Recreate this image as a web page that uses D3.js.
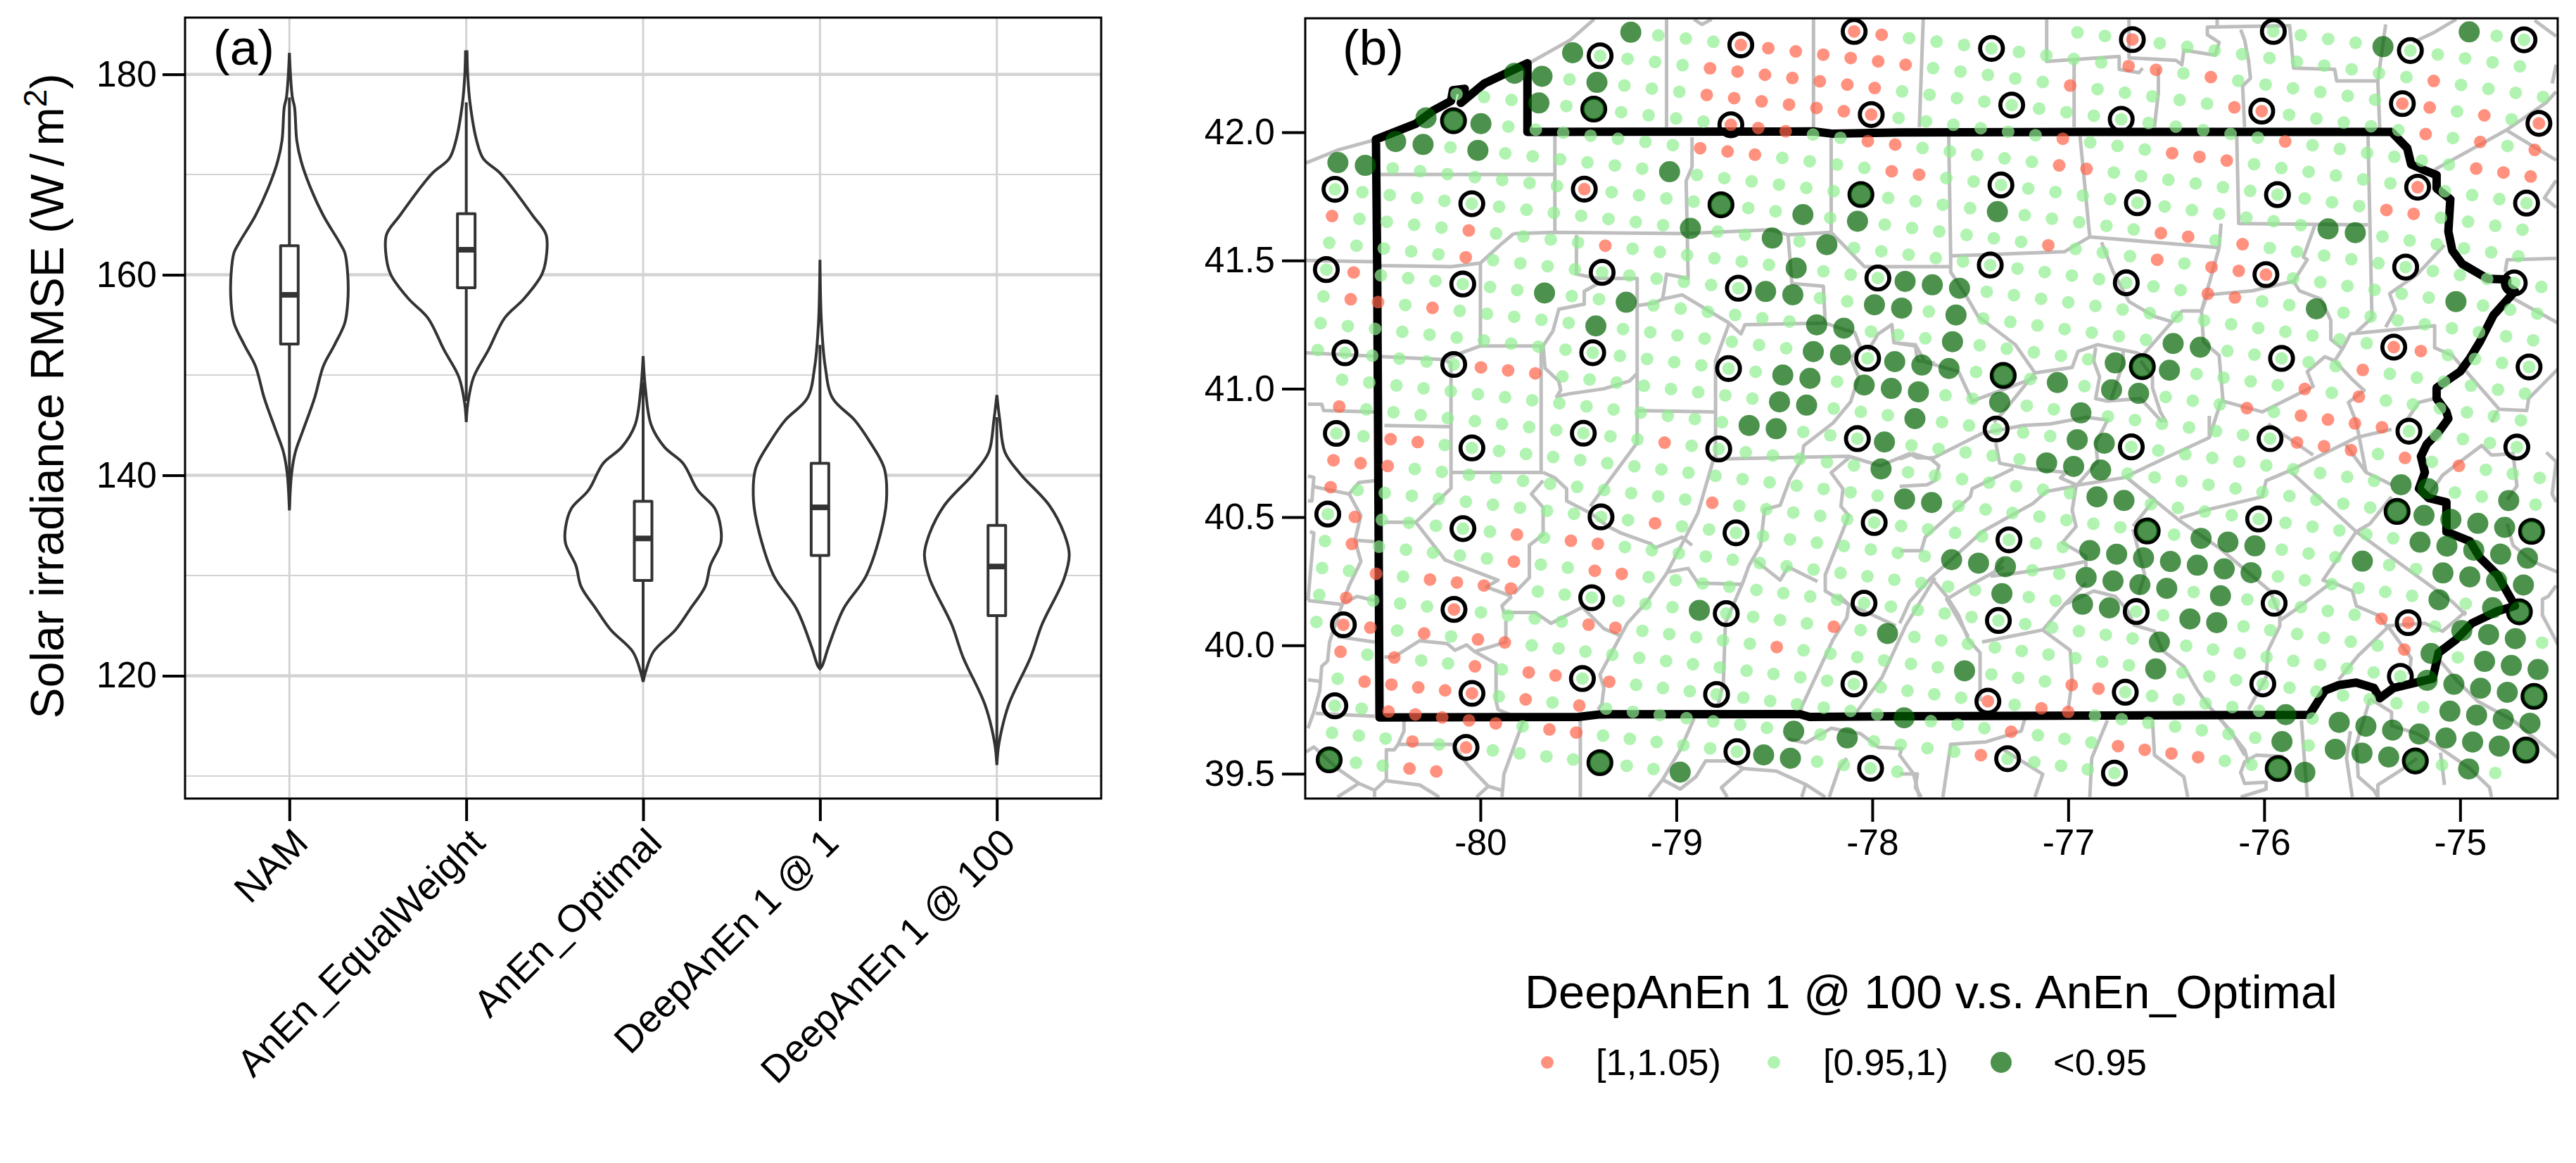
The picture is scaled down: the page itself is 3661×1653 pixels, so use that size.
<!DOCTYPE html>
<html>
<head>
<meta charset="utf-8">
<script src="https://cdn.jsdelivr.net/npm/d3@7"></script>
<style>
  body { margin: 0; background: #fff; }
  text { font-family: "Liberation Sans", Arial, sans-serif; fill: #000; }
</style>
</head>
<body>
<script>
// ---- panel (a) ----
const methods = ['NAM', 'AnEn_EqualWeight', 'AnEn_Optimal', 'DeepAnEn 1 @ 1', 'DeepAnEn 1 @ 100'];

// violin outlines: rmse value and relative half width
const namRmse = [182.15,179.9,177.7,176.7,173.4,171.3,168.6,165.9,163.2,162.2,160,157.3,155.2,153,150.9,147.7,144.4,142.3,140.2,136.5];
const namDensity = [0,.015,.04,.07,.10,.16,.29,.46,.68,.75,.79,.79,.75,.61,.46,.34,.18,.08,.03,0];
const equalRmse = [182.26,179.9,177.2,173.4,171.6,170.2,168.9,165.9,164,161.6,160,157.6,155.7,152.5,149.8,147.1,145.3];
const equalDensity = [.01,.02,.05,.14,.23,.45,.60,.90,1.08,1.08,1.02,.78,.52,.30,.10,.02,0];
const optimalRmse = [151.9,148.7,145,142.8,141.2,138.5,136.7,134.8,133.2,131,128.9,126.7,124.6,122.4,120.3,119.4];
const optimalDensity = [0,.03,.11,.29,.54,.74,.97,1.05,1.05,.91,.84,.64,.44,.14,.03,0];
const deep1Rmse = [161.5,155.2,150.9,147.7,145.5,143.4,140.7,137.5,134.2,129.9,126.7,123,121,120.7];
const deep1Density = [0,.02,.07,.17,.47,.67,.87,.90,.82,.62,.32,.12,.03,0];
const deep100Rmse = [148,145.5,142.3,140.2,137,134.2,132.1,129.7,125.1,121.9,117.1,113.3,111.1];
const deep100Density = [0,.04,.11,.31,.71,.91,.98,.91,.61,.46,.16,.03,0];

const violinRmse = [namRmse, equalRmse, optimalRmse, deep1Rmse, deep100Rmse];
const violinDensity = [namDensity, equalDensity, optimalDensity, deep1Density, deep100Density];

const whiskerHigh = [177.7,177.2,149.3,153,145.8];
const boxUpper = [162.9,166.1,137.4,141.2,135];
const boxMedian = [158,162.5,133.7,136.8,130.9];
const boxLower = [153.1,158.7,129.5,132,126];
const whiskerLow = [136.8,147.4,119.6,120.9,112.2];

const rmseMajor = [120,140,160,180];
const rmseMinor = [110,130,150,170];

// ---- panel (b) ----
const lonTicks = [-80,-79,-78,-77,-76,-75];
const latTicks = [39.5,40,40.5,41,41.5,42];
const legendLabels = ['[1,1.05)','[0.95,1)','<0.95'];
const legendTitle = 'DeepAnEn 1 @ 100 v.s. AnEn_Optimal';

const redPoints = [
[-78.67,42.337],[-78.53,42.325],[-78.39,42.313],[-78.09,42.391],[-77.95,42.379],[-78.25,42.301],[-78.11,42.288],[-77.97,42.274],[-77.83,42.262],
[-78.83,42.247],[-78.69,42.235],[-78.55,42.221],[-78.41,42.209],[-78.27,42.196],[-78.13,42.183],[-77.99,42.170],[-78.84,42.143],[-78.70,42.130],
[-78.56,42.119],[-78.42,42.105],[-78.28,42.092],[-78.14,42.079],[-78.00,42.067],[-78.72,42.030],[-78.58,42.015],[-78.44,42.002],[-78.88,41.936],
[-78.74,41.923],[-78.60,41.911],[-78.02,41.962],[-77.88,41.949],[-77.90,41.846],[-77.76,41.833],[-79.47,41.778],[-80.75,41.673],[-80.06,41.615],
[-80.07,41.511],[-79.36,41.557],[-80.65,41.452],[-80.66,41.348],[-80.52,41.337],[-80.24,41.314],[-80.00,41.083],[-79.86,41.070],[-79.72,41.059],[-80.72,40.931],
[-76.67,42.360],[-76.69,42.256],[-76.55,42.241],[-76.27,42.212],[-76.99,42.180],[-76.15,42.095],[-76.01,42.082],[-75.14,42.199],[-75.30,42.110],
[-75.16,42.094],[-74.88,42.064],[-74.60,42.033],[-75.18,41.991],[-74.90,41.960],[-74.62,41.930],[-74.92,41.856],[-74.78,41.843],[-74.64,41.826],
[-77.03,41.973],[-76.47,41.917],[-76.33,41.903],[-76.19,41.889],[-75.89,41.962],[-77.05,41.869],[-76.91,41.856],[-75.22,41.784],[-75.38,41.696],
[-75.24,41.681],[-76.53,41.604],[-76.39,41.591],[-77.10,41.557],[-76.11,41.562],[-76.55,41.502],[-76.27,41.472],[-76.13,41.459],[-75.99,41.444],
[-76.29,41.341],[-76.15,41.326],[-75.34,41.161],[-75.20,41.146],[-75.50,41.072],[-75.79,40.999],[-75.52,40.968],[-76.09,40.923],[-75.81,40.896],
[-75.68,40.881],[-75.54,40.865],[-75.40,40.850],[-75.83,40.791],[-75.69,40.776],[-75.56,40.761],[-75.28,40.730],[-75.01,40.700],[-75.40,40.105],
[-75.27,40.089],[-75.28,39.984],[-76.98,39.848],[-76.85,39.833],[-77.41,39.784],[-77.14,39.756],[-77.00,39.742],[-77.29,39.664],[-76.75,39.610],
[-76.61,39.595],[-76.48,39.580],[-76.34,39.565],[-77.45,39.573],
[-80.46,40.805],[-80.32,40.792],[-79.06,40.791],[-80.75,40.723],[-80.61,40.710],[-80.47,40.699],[-80.76,40.618],[-78.82,40.557],[-80.64,40.501],
[-79.11,40.476],[-79.81,40.431],[-80.66,40.396],[-79.54,40.410],[-79.40,40.397],[-79.83,40.327],[-80.53,40.280],[-79.41,40.293],[-79.28,40.279],
[-80.25,40.258],[-80.12,40.246],[-79.98,40.234],[-79.84,40.221],[-80.68,40.187],[-80.13,40.142],[-79.45,40.082],[-79.31,40.069],[-80.70,40.082],
[-80.56,40.070],[-78.19,40.075],[-80.29,40.046],[-80.01,40.024],[-79.87,40.012],[-78.49,39.995],[-80.71,39.976],[-80.44,39.953],[-80.03,39.918],
[-79.75,39.895],[-79.62,39.884],[-79.34,39.859],[-80.59,39.860],[-80.45,39.848],[-80.31,39.836],[-80.18,39.824],[-80.04,39.814],[-79.77,39.791],
[-79.49,39.767],[-80.47,39.743],[-80.33,39.731],[-80.19,39.719],[-80.06,39.708],[-79.92,39.697],[-79.65,39.674],[-79.51,39.660],[-80.35,39.626],
[-80.07,39.603],[-80.36,39.522],[-80.22,39.509]
];
const darkPoints = [
[-79.23,42.387],[-79.53,42.309],[-79.82,42.227],[-79.69,42.216],[-79.40,42.193],[-79.70,42.112],[-79.42,42.089],[-80.27,42.056],[-80.14,42.043],
[-80.00,42.033],[-80.43,41.962],[-80.29,41.951],[-80.01,41.929],[-80.73,41.880],[-80.59,41.870],[-79.03,41.844],[-78.77,41.716],[-78.05,41.757],
[-78.07,41.653],[-78.36,41.678],[-78.93,41.623],[-78.51,41.587],[-78.23,41.562],[-78.39,41.471],[-77.83,41.417],[-77.69,41.406],[-78.55,41.379],
[-78.41,41.366],[-79.67,41.371],[-79.25,41.337],[-79.41,41.243],[-77.99,41.327],[-77.85,41.315],[-78.28,41.249],[-78.14,41.235],[-78.30,41.146],
[-78.16,41.132],[-77.89,41.106],[-77.75,41.093],[-78.46,41.054],[-78.32,41.040],[-78.04,41.015],[-77.90,41.002],[-77.76,40.989],[-78.47,40.952],
[-78.33,40.938],[-77.78,40.894],
[-74.95,42.389],[-75.39,42.332],[-77.36,41.689],[-75.67,41.621],[-75.54,41.608],[-75.02,41.340],[-75.74,41.311],[-77.56,41.390],[-77.57,41.288],
[-77.59,41.183],[-77.61,41.078],[-77.33,41.052],[-77.06,41.025],[-77.35,40.947],[-76.94,40.910],[-76.76,41.100],[-76.62,41.086],[-76.48,41.073],
[-76.78,40.997],[-76.64,40.983],[-76.47,41.176],[-76.33,41.161],
[-78.63,40.859],[-78.49,40.846],[-77.94,40.793],[-77.95,40.688],[-77.83,40.569],[-77.71,40.558],[-78.88,40.139],[-77.92,40.048],[-77.84,39.721],
[-78.40,39.666],[-78.13,39.641],[-78.55,39.575],[-78.42,39.561],[-78.98,39.507],[-79.39,39.545],[-80.77,39.556],
[-76.95,40.802],[-76.82,40.789],[-77.11,40.711],[-76.97,40.698],[-76.83,40.684],[-76.85,40.579],[-76.72,40.566],[-76.60,40.447],[-77.60,40.335],
[-77.46,40.321],[-77.32,40.306],[-76.89,40.370],[-76.76,40.357],[-76.62,40.343],[-76.48,40.327],[-76.34,40.314],[-76.21,40.299],[-76.07,40.284],
[-76.32,40.418],[-76.19,40.404],[-76.05,40.389],[-76.91,40.265],[-76.77,40.252],[-76.63,40.238],[-76.50,40.222],[-77.34,40.204],[-76.23,40.194],
[-76.93,40.161],[-76.79,40.147],[-76.38,40.105],[-76.24,40.090],[-76.54,40.015],[-77.53,39.902],[-76.56,39.910],[-75.30,40.626],[-75.17,40.613],
[-75.32,40.523],[-75.19,40.508],[-75.05,40.494],[-74.91,40.477],[-74.77,40.462],[-74.75,40.564],[-74.64,40.446],[-75.21,40.404],[-75.07,40.388],
[-74.93,40.373],[-74.79,40.358],[-74.66,40.342],[-75.50,40.329],[-75.09,40.284],[-74.95,40.269],[-74.81,40.254],[-74.68,40.237],[-75.11,40.178],
[-74.84,40.149],[-74.70,40.133],[-74.99,40.060],[-74.86,40.044],[-74.72,40.028],[-75.15,39.971],[-74.88,39.939],[-74.74,39.923],[-74.60,39.908],
[-75.17,39.865],[-75.03,39.851],[-74.90,39.835],[-74.76,39.818],[-74.62,39.803],[-75.05,39.745],[-74.92,39.729],[-74.78,39.714],[-74.64,39.698],
[-75.62,39.702],[-75.48,39.687],[-75.34,39.672],[-75.21,39.656],[-75.07,39.640],[-74.93,39.624],[-74.80,39.609],[-74.67,39.595],[-75.89,39.731],
[-75.91,39.626],[-75.64,39.597],[-75.50,39.581],[-75.37,39.567],[-75.23,39.552],[-74.96,39.520],[-75.93,39.523],[-75.79,39.507]
];
const ringPoints = [
[-79.39,42.297],[-78.67,42.339],[-78.09,42.391],[-79.42,42.089],[-80.14,42.043],[-78.00,42.067],[-78.72,42.030],[-80.74,41.775],[-80.04,41.720],
[-79.47,41.778],[-78.77,41.716],[-78.05,41.757],[-80.79,41.464],[-79.38,41.453],[-77.97,41.431],[-80.09,41.408],[-78.68,41.392],[-80.69,41.141],
[-79.42,41.141],[-80.13,41.094],[-78.73,41.080],[-78.02,41.119],
[-77.39,42.325],[-76.67,42.360],[-75.95,42.391],[-75.25,42.316],[-74.68,42.358],[-77.29,42.105],[-76.73,42.049],[-76.01,42.082],[-75.30,42.110],
[-74.60,42.033],[-77.35,41.793],[-76.65,41.724],[-75.93,41.757],[-75.22,41.784],[-74.66,41.723],[-77.40,41.482],[-76.71,41.412],[-75.99,41.444],
[-75.28,41.473],[-75.34,41.161],[-75.91,41.119],[-74.65,41.084],[-77.33,41.051],[-76.62,41.086],[-74.72,41.413],
[-80.74,40.827],[-79.47,40.828],[-80.04,40.770],[-78.78,40.766],[-78.08,40.807],[-80.78,40.513],[-80.09,40.456],[-79.38,40.502],[-78.69,40.440],
[-77.99,40.480],[-79.43,40.187],[-80.13,40.142],[-78.74,40.125],[-78.04,40.166],[-80.70,40.082],[-79.48,39.873],[-78.09,39.851],[-80.04,39.814],
[-78.79,39.811],[-80.74,39.767],[-80.07,39.603],[-78.69,39.588],[-78.01,39.523],[-79.39,39.545],[-80.77,39.556],
[-77.37,40.844],[-76.68,40.774],[-75.97,40.806],[-75.26,40.835],[-74.71,40.773],[-76.03,40.493],[-76.60,40.447],[-75.32,40.523],[-74.64,40.446],
[-77.30,40.412],[-75.95,40.165],[-76.65,40.133],[-77.36,40.098],[-74.70,40.133],[-75.27,40.089],[-76.01,39.851],[-76.71,39.818],[-75.31,39.887],
[-77.41,39.784],[-74.62,39.803],[-74.67,39.595],[-75.23,39.552],[-75.93,39.523],[-77.31,39.560],[-76.77,39.505]
];

const stateBorder = [
[-80.515,39.719],[-80.52,40.506],[-80.527,41.497],[-80.533,41.972],[-80.33,42.033],[-80.24,42.085],[-80.15,42.122],[-80.14,42.164],[-80.08,42.169],
[-80.10,42.114],[-79.98,42.190],[-79.76,42.269],[-79.76,42.001],[-78.30,42.003],[-78.20,41.994],[-77.86,41.999],[-76.94,42.001],[-75.35,42.001],
[-75.27,41.938],[-75.25,41.875],[-75.19,41.854],[-75.12,41.833],[-75.12,41.781],[-75.05,41.739],[-75.06,41.613],[-75.04,41.539],[-74.99,41.487],
[-74.86,41.429],[-74.76,41.426],[-74.76,41.40],[-74.72,41.38],[-74.83,41.287],[-74.90,41.182],[-74.95,41.119],[-75.00,41.067],[-75.12,41.004],
[-75.12,40.962],[-75.07,40.910],[-75.06,40.884],[-75.11,40.831],[-75.17,40.784],[-75.20,40.737],[-75.18,40.674],[-75.21,40.611],[-75.16,40.574],
[-75.07,40.558],[-75.07,40.443],[-74.95,40.406],[-74.90,40.343],[-74.81,40.275],[-74.72,40.154],[-74.81,40.133],[-74.94,40.086],[-75.02,40.023],
[-75.11,39.971],[-75.14,39.871],[-75.34,39.834],[-75.41,39.794],[-75.44,39.834],[-75.53,39.855],[-75.62,39.845],[-75.69,39.824],[-75.77,39.729],
[-77.86,39.724],[-78.32,39.721],[-78.37,39.732],[-79.39,39.731],[-79.50,39.721],[-80.515,39.719]
];

// county and shore lines
const countyLines = [
[[-80.89,41.88],[-80.73,41.93],[-80.54,41.97]],
[[-79.75,42.27],[-79.54,42.36],[-79.42,42.44]],
[[-79.05,42.44],[-79.05,42.02]],
[[-78.30,42.44],[-78.30,42.02]],
[[-78.91,42.44],[-78.87,42.42],[-78.82,42.44]],
[[-79.62,41.985],[-79.62,41.61]],
[[-80.52,41.835],[-79.62,41.835]],
[[-79.83,41.605],[-79.62,41.61],[-78.95,41.605],[-78.52,41.62],[-78.43,41.60],[-78.21,41.61]],
[[-78.92,41.98],[-78.92,41.865],[-78.95,41.81],[-78.94,41.43],[-79.05,41.447],[-79.07,41.35],[-78.97,41.366],[-78.73,41.256]],
[[-79.20,41.324],[-79.11,41.335],[-79.07,41.35]],
[[-78.21,41.98],[-78.21,41.61],[-78.04,41.476],[-77.60,41.476]],
[[-78.43,41.60],[-78.41,41.41],[-78.25,41.40],[-78.24,41.256],[-78.65,41.25],[-78.67,41.214],[-78.73,41.256]],
[[-80.89,41.50],[-80.54,41.495],[-80.52,41.48],[-80.15,41.476],[-80.00,41.49],[-79.90,41.56],[-79.83,41.605]],
[[-79.51,41.60],[-79.51,41.447],[-79.40,41.43],[-79.20,41.43],[-79.20,40.79],[-79.44,40.542]],
[[-80.00,41.49],[-80.00,41.167],[-79.68,41.167]],
[[-79.40,41.41],[-79.47,41.38],[-79.47,41.33],[-79.60,41.31],[-79.63,41.225],[-79.68,41.167],[-79.67,41.08],[-79.60,41.03],[-79.59,40.995],[-79.61,40.97],[-79.55,40.98],[-79.37,41.00],[-79.24,41.03],[-79.20,41.06]],
[[-80.89,41.14],[-80.19,41.114],[-80.00,41.167]],
[[-80.19,41.114],[-80.15,41.10],[-80.15,40.612],[-80.33,40.48],[-80.49,40.48]],
[[-79.69,41.167],[-79.69,40.674]],
[[-78.73,41.256],[-78.80,41.11],[-78.80,40.726]],
[[-78.80,40.91],[-79.20,40.915]],
[[-80.88,40.94],[-80.81,40.94],[-80.80,40.915],[-80.54,40.91]],
[[-78.24,41.256],[-78.14,41.23],[-78.09,41.22],[-78.06,41.16],[-78.11,41.12],[-78.07,41.046],[-78.11,40.95],[-78.20,40.867],[-78.35,40.778],[-78.36,40.726],[-78.42,40.65],[-78.47,40.546],[-78.55,40.53],[-78.57,40.39],[-78.63,40.31],[-78.66,40.246],[-78.75,40.086],[-78.76,39.855],[-78.79,39.756]],
[[-78.02,41.15],[-77.97,41.214],[-77.90,41.25],[-77.89,41.18],[-77.78,41.167],[-77.77,41.11],[-77.68,41.10]],
[[-77.74,42.44],[-77.76,42.02]],
[[-77.11,42.44],[-77.11,42.276],[-76.74,42.295],[-76.74,42.245],[-76.64,42.232],[-76.62,42.25]],
[[-76.69,42.44],[-76.69,42.29],[-76.45,42.28],[-76.42,42.263],[-76.41,42.32],[-76.25,42.30],[-76.23,42.35],[-76.29,42.38],[-76.29,42.41],[-75.87,42.415],[-75.85,42.25],[-75.64,42.245],[-75.63,42.20],[-75.42,42.20]],
[[-76.97,42.276],[-76.97,42.02]],
[[-76.54,42.25],[-76.54,42.155],[-76.56,42.02]],
[[-76.12,42.40],[-76.10,42.36],[-76.08,42.28],[-76.07,42.21],[-76.11,42.18],[-76.10,42.02]],
[[-76.24,42.44],[-76.24,42.41]],
[[-75.38,42.42],[-75.42,42.20],[-75.41,42.01]],
[[-75.24,42.35],[-75.13,42.39],[-75.02,42.44]],
[[-74.62,42.436],[-74.51,42.374]],
[[-74.76,42.006],[-74.51,41.891]],
[[-75.13,41.854],[-74.76,42.01],[-74.56,42.116],[-74.51,42.158]],
[[-74.51,42.263],[-74.53,42.19]],
[[-74.51,41.812],[-74.57,41.744],[-74.51,41.707]],
[[-77.61,41.985],[-77.60,41.518],[-77.60,41.455],[-77.52,41.361],[-77.46,41.282],[-77.27,41.172],[-77.17,41.062],[-76.98,41.083],[-76.95,41.146],[-76.85,41.172],[-76.65,41.14],[-76.62,41.13],[-76.47,41.261],[-76.42,41.303],[-76.32,41.303],[-76.23,41.55]],
[[-77.60,41.518],[-77.02,41.534],[-76.89,41.592],[-76.94,41.985]],
[[-76.89,41.592],[-76.23,41.55]],
[[-76.14,41.985],[-76.13,41.644],[-75.47,41.639]],
[[-75.47,41.985],[-75.45,41.277],[-75.53,41.22]],
[[-76.22,41.644],[-76.23,41.55]],
[[-75.74,41.64],[-75.80,41.513],[-75.78,41.503],[-75.85,41.419],[-76.06,41.382],[-76.29,41.366],[-76.32,41.303]],
[[-76.83,41.571],[-76.77,41.455],[-76.69,41.34],[-76.56,41.282],[-76.47,41.261]],
[[-76.32,41.303],[-76.31,41.183],[-76.23,41.13],[-76.21,40.952],[-76.01,40.91],[-75.75,41.009],[-75.78,41.067],[-75.69,41.125],[-75.64,41.109],[-75.55,41.036],[-75.49,40.994],[-75.57,40.947],[-75.53,40.87],[-75.48,40.674],[-75.42,40.653],[-75.35,40.626]],
[[-75.85,41.419],[-75.82,41.382],[-75.71,41.35],[-75.66,41.267],[-75.66,41.193],[-75.60,41.156],[-75.56,41.214],[-75.13,41.246],[-75.13,41.16],[-75.04,41.13],[-74.80,40.92],[-74.66,40.915],[-74.65,40.962],[-74.50,41.078]],
[[-75.64,41.109],[-75.60,41.156]],
[[-75.08,41.56],[-75.22,41.445],[-75.36,41.371],[-75.33,41.308],[-75.38,41.24]],
[[-74.75,41.361],[-74.50,41.256]],
[[-74.77,41.455],[-74.76,41.503],[-74.51,41.508]],
[[-75.28,40.87],[-75.21,40.947],[-75.13,40.962]],
[[-74.81,40.915],[-74.84,40.87]],
[[-77.17,41.062],[-77.33,40.91],[-77.38,40.87]],
[[-77.16,41.046],[-77.49,40.952],[-77.56,41.067],[-77.73,41.104],[-77.78,41.172],[-77.86,41.177]],
[[-76.86,41.161],[-76.87,41.109],[-76.84,41.046],[-76.86,40.962],[-76.80,40.952],[-76.63,40.962],[-76.52,40.87]],
[[-76.72,41.15],[-76.72,41.10],[-76.78,40.962]],
[[-76.63,41.109],[-76.57,41.046],[-76.57,41.004],[-76.53,40.91],[-76.50,40.87]],
[[-76.28,40.81],[-76.22,40.952]],
[[-80.49,40.857],[-80.15,40.852]],
[[-80.15,40.674],[-79.68,40.674]],
[[-80.33,40.48],[-80.18,40.333],[-79.91,40.254],[-79.97,40.228],[-79.84,40.191]],
[[-79.68,40.674],[-79.62,40.653],[-79.56,40.61],[-79.56,40.563],[-79.44,40.516],[-79.35,40.464],[-79.28,40.437],[-79.13,40.396],[-79.11,40.38],[-78.97,40.422],[-78.92,40.39]],
[[-79.68,40.642],[-79.74,40.59],[-79.68,40.537],[-79.68,40.432],[-79.75,40.39],[-79.75,40.264],[-79.83,40.201]],
[[-78.80,40.726],[-78.12,40.737],[-77.96,40.70],[-77.81,40.747],[-77.77,40.731],[-77.68,40.731]],
[[-78.81,40.726],[-78.89,40.516],[-78.96,40.411],[-79.05,40.28],[-79.15,40.17],[-79.25,40.086],[-79.28,40.044],[-79.39,39.886],[-79.37,39.834],[-79.38,39.771],[-79.40,39.75]],
[[-79.05,40.285],[-78.94,40.30],[-78.89,40.243],[-78.66,40.238]],
[[-79.48,40.149],[-79.64,40.086],[-79.72,40.128],[-79.88,40.128],[-79.89,40.154],[-79.84,40.191]],
[[-79.48,40.149],[-79.37,40.065],[-79.29,40.039]],
[[-80.49,39.955],[-80.44,39.955],[-80.31,40.018],[-80.17,40.007],[-80.13,39.981],[-80.07,40.002],[-80.03,39.976],[-79.92,39.929],[-79.92,39.782],[-79.91,39.75],[-79.78,39.708],[-79.88,39.498],[-79.89,39.409]],
[[-80.03,39.976],[-79.87,40.013],[-79.87,40.096]],
[[-80.88,40.66],[-80.85,40.655],[-80.86,40.563],[-80.88,40.563]],
[[-80.86,40.62],[-80.67,40.59],[-80.62,40.635],[-80.54,40.642]],
[[-80.67,40.59],[-80.61,40.506],[-80.64,40.41],[-80.54,40.404]],
[[-80.64,40.41],[-80.61,40.327],[-80.67,40.233],[-80.72,40.128],[-80.77,40.013],[-80.78,39.939],[-80.81,39.918],[-80.82,39.824],[-80.85,39.74],[-80.88,39.677]],
[[-80.87,40.443],[-80.85,40.438],[-80.88,40.175]],
[[-80.88,40.175],[-80.71,40.16],[-80.63,40.191],[-80.54,40.175]],
[[-80.73,40.034],[-80.54,40.013]],
[[-80.88,39.866],[-80.82,39.86]],
[[-80.84,39.735],[-80.54,39.724]],
[[-80.39,39.714],[-80.39,39.666],[-80.42,39.614],[-80.44,39.593],[-80.48,39.593],[-80.48,39.477],[-80.54,39.435],[-80.54,39.409]],
[[-80.42,39.614],[-80.14,39.614],[-80.07,39.54],[-80.04,39.514],[-79.96,39.451],[-79.89,39.435]],
[[-80.48,39.472],[-80.31,39.456],[-80.21,39.409]],
[[-80.89,39.585],[-80.85,39.604],[-80.73,39.52],[-80.62,39.462],[-80.54,39.435]],
[[-80.62,39.462],[-80.73,39.409]],
[[-79.96,39.451],[-80.02,39.409]],
[[-79.49,39.708],[-79.49,39.409]],
[[-78.91,39.714],[-78.98,39.593],[-79.07,39.477],[-79.14,39.409]],
[[-79.07,39.477],[-78.98,39.44],[-78.90,39.488],[-78.85,39.55],[-78.72,39.55],[-78.66,39.52]],
[[-78.74,39.409],[-78.77,39.446],[-78.66,39.52],[-78.49,39.51],[-78.34,39.458],[-78.24,39.409]],
[[-78.36,39.409],[-78.34,39.458]],
[[-78.43,39.635],[-78.34,39.62],[-78.21,39.677],[-78.06,39.656],[-77.97,39.603],[-77.85,39.598],[-77.86,39.572],[-77.79,39.5],[-77.76,39.41]],
[[-78.22,39.409],[-78.17,39.52],[-78.13,39.56]],
[[-78.11,40.737],[-78.21,40.673],[-78.15,40.61],[-78.16,40.542],[-78.12,40.506],[-78.24,40.275],[-78.24,40.212],[-78.12,40.159],[-78.13,40.107],[-78.20,40.023],[-78.36,39.761],[-78.37,39.729]],
[[-78.60,40.333],[-78.47,40.254],[-78.43,40.306],[-78.28,40.249]],
[[-78.17,40.196],[-78.12,40.159],[-78.01,40.123],[-77.88,40.076]],
[[-77.68,40.264],[-77.83,40.076],[-77.95,39.876],[-78.08,39.74]],
[[-77.86,40.726],[-77.79,40.747],[-77.70,40.726],[-77.66,40.70],[-77.68,40.642],[-77.72,40.626],[-77.86,40.62]],
[[-77.70,40.726],[-77.44,40.826],[-77.23,40.857],[-77.09,40.863],[-76.91,40.889],[-76.80,40.878],[-76.83,40.831],[-76.86,40.79],[-76.85,40.716],[-76.96,40.621],[-76.98,40.526],[-76.96,40.463],[-77.03,40.40],[-76.91,40.348],[-76.91,40.306]],
[[-77.37,40.789],[-77.35,40.71],[-77.21,40.689],[-77.01,40.674],[-77.04,40.653],[-76.96,40.626]],
[[-77.28,40.689],[-77.49,40.611],[-77.50,40.579],[-77.73,40.422],[-77.75,40.369],[-77.86,40.369]],
[[-76.96,40.621],[-77.11,40.60],[-77.18,40.553],[-77.44,40.443],[-77.53,40.38],[-77.70,40.264],[-77.81,40.17],[-77.86,40.086]],
[[-77.70,40.264],[-77.62,40.191],[-77.56,40.118],[-77.51,40.023],[-77.45,39.971],[-77.45,39.782]],
[[-76.91,40.327],[-77.05,40.306],[-77.28,40.28],[-77.39,40.27],[-77.37,40.296],[-77.33,40.338]],
[[-77.33,40.306],[-77.53,40.222],[-77.62,40.18],[-77.51,40.034]],
[[-76.91,40.243],[-77.02,40.159],[-77.13,40.06],[-77.44,40.013]],
[[-77.13,40.06],[-76.99,39.981],[-76.98,39.866],[-77.00,39.75]],
[[-76.67,40.081],[-76.56,40.055],[-76.52,39.981],[-76.41,39.918],[-76.34,39.824],[-76.28,39.761],[-76.17,39.666],[-76.10,39.572]],
[[-77.02,40.159],[-76.87,40.212],[-76.76,40.191],[-76.70,40.139],[-76.66,40.076]],
[[-76.67,40.453],[-76.61,40.275],[-76.64,40.20]],
[[-76.67,40.464],[-76.56,40.569],[-76.70,40.653]],
[[-76.98,40.621],[-76.72,40.653],[-76.28,40.81],[-76.28,40.895]],
[[-76.70,40.653],[-76.43,40.485],[-76.23,40.38],[-75.97,40.212],[-75.92,40.118],[-75.92,40.076],[-75.98,39.981],[-75.99,39.876],[-76.08,39.75]],
[[-76.43,40.496],[-76.30,40.527],[-76.01,40.579],[-75.99,40.642],[-75.86,40.684],[-75.53,40.81],[-75.35,40.842]],
[[-75.86,40.674],[-75.53,40.443],[-75.04,40.17],[-74.97,40.118]],
[[-75.53,40.443],[-75.70,40.254],[-75.66,40.243],[-75.84,40.139],[-75.92,40.097]],
[[-75.66,40.249],[-75.55,40.212],[-75.53,40.154],[-75.42,40.118],[-75.37,40.07],[-75.52,39.96],[-75.62,39.866]],
[[-75.37,40.076],[-75.25,39.95],[-75.26,39.887]],
[[-75.59,40.789],[-75.53,40.726],[-75.48,40.674]],
[[-75.98,40.863],[-75.75,40.742]],
[[-75.35,40.579],[-75.46,40.474],[-75.53,40.443]],
[[-75.17,40.574],[-75.09,40.663],[-75.0,40.716],[-74.89,40.779],[-74.84,40.742],[-74.73,40.747],[-74.71,40.621],[-74.76,40.568]],
[[-74.56,40.752],[-74.51,40.716],[-74.53,40.59],[-74.51,40.558]],
[[-74.76,40.474],[-74.73,40.39],[-74.63,40.327],[-74.50,40.285]],
[[-74.51,40.233],[-74.55,40.191],[-74.58,40.18],[-74.58,40.118],[-74.50,40.002]],
[[-74.97,40.133],[-75.09,40.055],[-75.18,40.086],[-75.37,40.076]],
[[-75.13,39.965],[-75.02,39.866],[-74.91,39.782],[-74.73,39.708],[-74.50,39.561]],
[[-75.81,39.708],[-75.78,39.409]],
[[-75.56,39.666],[-75.58,39.561],[-75.55,39.409]],
[[-75.46,39.792],[-75.35,39.74],[-75.35,39.687],[-75.22,39.656],[-75.11,39.604],[-74.95,39.52],[-74.85,39.446],[-74.84,39.409]],
[[-75.46,39.792],[-75.53,39.614],[-75.52,39.488],[-75.44,39.435],[-75.42,39.409]],
[[-75.42,39.409],[-75.42,39.456],[-75.29,39.52],[-75.22,39.56]],
[[-75.08,39.456],[-75.10,39.582]],
[[-75.90,39.567],[-76.04,39.572],[-76.10,39.546],[-76.12,39.504],[-76.10,39.462],[-75.99,39.467],[-75.99,39.44],[-76.12,39.409]],
[[-76.23,39.718],[-76.10,39.593],[-76.08,39.54]],
[[-76.80,39.708],[-76.88,39.561],[-76.89,39.409]],
[[-76.57,39.708],[-76.56,39.572],[-76.41,39.488],[-76.39,39.409]],
[[-77.22,39.719],[-77.24,39.666],[-77.42,39.624],[-77.60,39.614],[-77.64,39.409]],
[[-77.33,39.593],[-77.13,39.498],[-77.17,39.409]],
[[-77.86,39.499],[-77.77,39.499],[-77.78,39.446],[-77.75,39.409]]
];

// the forecast points are the nodes of the NAM 12 km Lambert grid, clipped to this box, none over Lake Erie
const mapBox = [-80.84, -74.575, 39.5, 42.4];
const lakeArea = [[-81,41.886],[-80.80,41.886],[-80.49,41.97],[-80.34,42.062],[-80.19,42.153],[-79.90,42.234],[-79.60,42.316],[-79.30,42.395],[-79.07,42.478],[-81,42.6]];

const colors = { red: 'tomato', light: 'lightgreen', dark: 'darkgreen' };
const radius = { red: 9, light: 9, dark: 15 };

const width = 3661;
const height = 1653;
const marginA = { left: 263, right: 1565, top: 25, bottom: 1135 };
const marginB = { left: 1855, right: 3635, top: 26, bottom: 1135 };

const svg = d3.select('body').append('svg')
  .attr('width', width)
  .attr('height', height)
  .style('display', 'block');

svg.append('rect').attr('width', width).attr('height', height).attr('fill', '#fff');

const axisStyle = (g, size) => {
  g.select('.domain').remove();
  g.selectAll('.tick line').attr('stroke', '#000').attr('stroke-width', 4);
  g.selectAll('.tick text').attr('font-size', size).attr('fill', '#000')
    .attr('font-family', '"Liberation Sans", Arial, sans-serif');
};

// ---------- panel (a) ----------
const x = d3.scalePoint().domain(methods).range([marginA.left, marginA.right]).padding(0.59);
const y = d3.scaleLinear().domain([107.75, 185.66]).range([marginA.bottom, marginA.top]);
const densityWidth = d3.scaleLinear().domain([0, 1]).range([0, 105]);

const panelA = svg.append('g');

panelA.selectAll('line.minor').data(rmseMinor).enter().append('line')
  .attr('x1', marginA.left).attr('x2', marginA.right)
  .attr('y1', d => y(d)).attr('y2', d => y(d))
  .attr('stroke', '#d3d3d3').attr('stroke-width', 2);
panelA.selectAll('line.major').data(rmseMajor).enter().append('line')
  .attr('x1', marginA.left).attr('x2', marginA.right)
  .attr('y1', d => y(d)).attr('y2', d => y(d))
  .attr('stroke', '#d3d3d3').attr('stroke-width', 4.5);
panelA.selectAll('line.vertical').data(methods).enter().append('line')
  .attr('x1', d => x(d)).attr('x2', d => x(d))
  .attr('y1', marginA.top).attr('y2', marginA.bottom)
  .attr('stroke', '#d3d3d3').attr('stroke-width', 3);

methods.forEach((name, i) => {
  const pts = violinRmse[i].map((v, k) => ({ v: v, d: violinDensity[i][k] }));
  const cx = x(name);
  const area = d3.area()
    .x0(d => cx - densityWidth(d.d))
    .x1(d => cx + densityWidth(d.d))
    .y(d => y(d.v))
    .curve(d3.curveCatmullRom);

  panelA.append('path').datum(pts)
    .attr('d', area)
    .attr('fill', '#fff')
    .attr('stroke', '#333')
    .attr('stroke-width', 4);

  panelA.append('line')
    .attr('x1', cx).attr('x2', cx)
    .attr('y1', y(whiskerHigh[i])).attr('y2', y(whiskerLow[i]))
    .attr('stroke', '#333').attr('stroke-width', 4);

  panelA.append('rect')
    .attr('x', cx - 12.5).attr('width', 25)
    .attr('y', y(boxUpper[i])).attr('height', y(boxLower[i]) - y(boxUpper[i]))
    .attr('fill', '#fff').attr('stroke', '#333').attr('stroke-width', 4)
    .attr('stroke-linejoin', 'round');

  panelA.append('line')
    .attr('x1', cx - 12.5).attr('x2', cx + 12.5)
    .attr('y1', y(boxMedian[i])).attr('y2', y(boxMedian[i]))
    .attr('stroke', '#333').attr('stroke-width', 8);
});

panelA.append('rect')
  .attr('x', marginA.left).attr('y', marginA.top)
  .attr('width', marginA.right - marginA.left).attr('height', marginA.bottom - marginA.top)
  .attr('fill', 'none').attr('stroke', '#000').attr('stroke-width', 3);

panelA.append('g')
  .attr('transform', `translate(${marginA.left},0)`)
  .call(d3.axisLeft(y).tickValues(rmseMajor).tickFormat(d3.format('d')).tickSize(32).tickPadding(8))
  .call(axisStyle, 51.5);

panelA.append('g')
  .attr('transform', `translate(0,${marginA.bottom})`)
  .call(d3.axisBottom(x).tickSize(32))
  .call(axisStyle, 54.3)
  .selectAll('.tick text')
    .attr('y', 0).attr('dy', 0)
    .attr('text-anchor', 'end')
    .attr('transform', 'translate(29,66) rotate(-45)');

const yTitle = panelA.append('text')
  .attr('transform', 'translate(90,563) rotate(-90)')
  .attr('text-anchor', 'middle')
  .attr('font-size', 66);
yTitle.append('tspan').text('Solar irradiance RMSE (W');
yTitle.append('tspan').attr('dx', 11).text('/');
yTitle.append('tspan').attr('dx', 11).text('m');
yTitle.append('tspan').attr('dy', -24).attr('font-size', 46).text('2');
yTitle.append('tspan').attr('dy', 24).text(')');

panelA.append('text').attr('x', 303).attr('y', 92).attr('font-size', 71).text('(a)');

// ---------- panel (b) ----------
const lon = d3.scaleLinear().domain([-80.894, -74.502]).range([marginB.left, marginB.right]);
const lat = d3.scaleLinear().domain([39.403, 42.444]).range([marginB.bottom, marginB.top]);

svg.append('clipPath').attr('id', 'map-clip').append('rect')
  .attr('x', marginB.left).attr('y', marginB.top)
  .attr('width', marginB.right - marginB.left).attr('height', marginB.bottom - marginB.top);

const panelB = svg.append('g');
const map = panelB.append('g').attr('clip-path', 'url(#map-clip)');

const mapLine = d3.line().x(d => lon(d[0])).y(d => lat(d[1]));

map.selectAll('path.county').data(countyLines).enter().append('path')
  .attr('class', 'county')
  .attr('d', mapLine)
  .attr('fill', 'none')
  .attr('stroke', '#bebebe')
  .attr('stroke-width', 5)
  .attr('stroke-linejoin', 'round');

map.append('path').datum(stateBorder)
  .attr('d', d3.line().x(d => lon(d[0])).y(d => lat(d[1])).curve(d3.curveLinearClosed))
  .attr('fill', 'none')
  .attr('stroke', '#000')
  .attr('stroke-width', 12)
  .attr('stroke-linejoin', 'round');

// grid coordinates: one unit is one grid step
const grid = d3.geoConicConformal()
  .parallels([25, 25])
  .rotate([95, 0])
  .scale(6367.47 / 12.19058)
  .translate([0, 0]);

const readPoints = redPoints.concat(darkPoints);
const phase = k => {
  let s = 0, c = 0;
  readPoints.forEach(p => {
    const a = 2 * Math.PI * grid(p)[k];
    s += Math.sin(a);
    c += Math.cos(a);
  });
  return Math.atan2(s, c) / (2 * Math.PI);
};
const phaseX = phase(0);
const phaseY = phase(1);
const nodeOf = p => {
  const g = grid(p);
  return [Math.round(g[0] - phaseX), Math.round(g[1] - phaseY)];
};

const classes = new Map();
redPoints.forEach(p => classes.set(nodeOf(p).join(), 'red'));
darkPoints.forEach(p => classes.set(nodeOf(p).join(), 'dark'));

const corners = [[mapBox[0], mapBox[2]], [mapBox[0], mapBox[3]], [mapBox[1], mapBox[2]], [mapBox[1], mapBox[3]]].map(grid);
const iRange = d3.extent(corners, d => d[0]);
const jRange = d3.extent(corners, d => d[1]);

const nodes = [];
for (let i = Math.floor(iRange[0]) - 1; i <= iRange[1] + 1; i++) {
  for (let j = Math.floor(jRange[0]) - 1; j <= jRange[1] + 1; j++) {
    const p = grid.invert([i + phaseX, j + phaseY]);
    const kind = classes.get([i, j].join());
    const inside = p[0] >= mapBox[0] && p[0] <= mapBox[1] && p[1] >= mapBox[2] && p[1] <= mapBox[3]
      && !d3.polygonContains(lakeArea, p);
    if (kind || inside) nodes.push({ p: p, kind: kind || 'light' });
  }
}

map.selectAll('circle.ring').data(ringPoints.map(d => {
    const n = nodeOf(d);
    return grid.invert([n[0] + phaseX, n[1] + phaseY]);
  })).enter().append('circle')
  .attr('class', 'ring')
  .attr('cx', d => lon(d[0]))
  .attr('cy', d => lat(d[1]))
  .attr('r', 16.2)
  .attr('fill', 'none')
  .attr('stroke', '#000')
  .attr('stroke-width', 5.8);

map.selectAll('circle.node').data(nodes).enter().append('circle')
  .attr('class', 'node')
  .attr('cx', d => lon(d.p[0]))
  .attr('cy', d => lat(d.p[1]))
  .attr('r', d => radius[d.kind])
  .attr('fill', d => colors[d.kind])
  .attr('fill-opacity', 0.7);

panelB.append('rect')
  .attr('x', marginB.left).attr('y', marginB.top)
  .attr('width', marginB.right - marginB.left).attr('height', marginB.bottom - marginB.top)
  .attr('fill', 'none').attr('stroke', '#000').attr('stroke-width', 3);

panelB.append('g')
  .attr('transform', `translate(${marginB.left},0)`)
  .call(d3.axisLeft(lat).tickValues(latTicks).tickFormat(d3.format('.1f')).tickSize(33).tickPadding(10))
  .call(axisStyle, 51.5);

panelB.append('g')
  .attr('transform', `translate(0,${marginB.bottom})`)
  .call(d3.axisBottom(lon).tickValues(lonTicks).tickFormat(d => d).tickSize(33).tickPadding(10))
  .call(axisStyle, 51.5);

panelB.append('text').attr('x', 1908).attr('y', 92).attr('font-size', 71).text('(b)');

// legend
panelB.append('text').attr('x', 2167).attr('y', 1433).attr('font-size', 66.6).text(legendTitle);

const legendDotX = d3.scaleOrdinal().domain(['red', 'light', 'dark']).range([2199, 2521, 2844]);
const legendTextX = d3.scaleOrdinal().domain(['red', 'light', 'dark']).range([2268, 2591, 2918]);
['red', 'light', 'dark'].forEach((kind, i) => {
  panelB.append('circle')
    .attr('cx', legendDotX(kind)).attr('cy', 1510)
    .attr('r', radius[kind])
    .attr('fill', colors[kind]).attr('fill-opacity', 0.7);
  panelB.append('text')
    .attr('x', legendTextX(kind)).attr('y', 1528)
    .attr('font-size', 52.5)
    .text(legendLabels[i]);
});
</script>
</body>
</html>
